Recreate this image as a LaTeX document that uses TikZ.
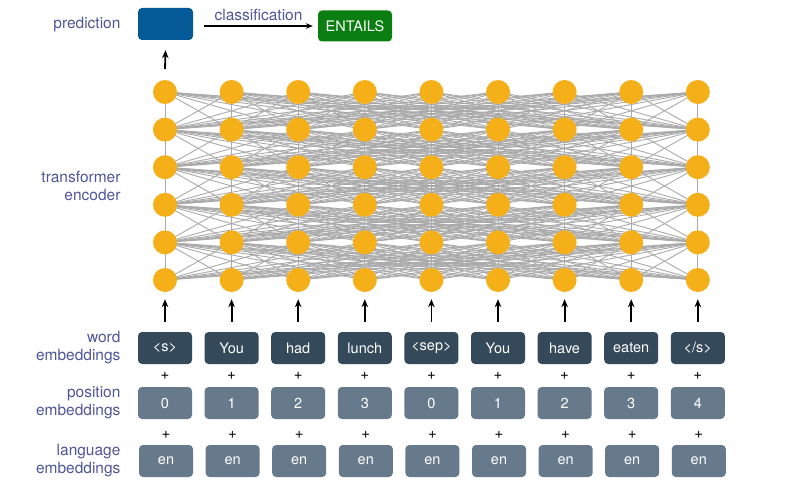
\documentclass[tikz,border=0pt]{standalone}
\usepackage{fontspec}
\setmainfont{TeX Gyre Heros}
\usetikzlibrary{arrows.meta}
\definecolor{lbl}{HTML}{4E5699}
\definecolor{orng}{HTML}{F5AF19}
\definecolor{predblue}{HTML}{035A97}
\definecolor{entgreen}{HTML}{0B7E12}
\definecolor{wordc}{HTML}{34495A}
\definecolor{posc}{HTML}{667A8B}
\definecolor{edgec}{HTML}{AAAAAA}
\tikzset{
  sidelabel/.style={text=lbl, font=\fontsize{15.5}{18}\selectfont, align=right, anchor=east},
  neuron/.style={circle, fill=orng, minimum size=24pt, inner sep=0pt},
  wbox/.style={rounded corners=4pt, fill=wordc, text=white, minimum width=54pt, minimum height=32pt, inner sep=0pt, font=\fontsize{14.5}{16}\selectfont},
  pbox/.style={wbox, fill=posc},
  plus/.style={font=\fontsize{15}{16}\selectfont, inner sep=0pt},
  conn/.style={draw=edgec, line width=0.9pt},
  uparrow/.style={-{Stealth[length=8pt,width=6.5pt]}, line width=1.8pt, black},
}
\begin{document}
\begin{tikzpicture}[x=1pt,y=-1pt]
\useasboundingbox (0,0) rectangle (810,484);
% side labels
\node[sidelabel] (lpred) at (124,25) {prediction};
\node[sidelabel] (lenc) at (124,186) {transformer\\encoder};
\node[sidelabel] (lword) at (124,348) {word\\embeddings};
\node[sidelabel] (lpos) at (124,403) {position\\embeddings};
\node[sidelabel] (llang) at (124,461) {language\\embeddings};
% neurons coordinates
\foreach \i in {1,...,9}{
  \foreach \r in {1,...,6}{
    \coordinate (c\i-\r) at ({165+(\i-1)*66.6},{92+(\r-1)*37.6});
  }
}
% edges
\foreach \r [evaluate=\r as \rn using int(\r+1)] in {1,...,5}{
  \foreach \i in {1,...,9}{
    \foreach \j in {1,...,9}{
      \draw[conn] (c\i-\r) -- (c\j-\rn);
    }
  }
}
\foreach \i in {1,...,9}{
  \foreach \r in {1,...,6}{
    \node[neuron] (n\i-\r) at (c\i-\r) {};
  }
}
% embeddings
\foreach \i/\w/\p in {1/{<s>}/0, 2/You/1, 3/had/2, 4/lunch/3, 5/{<sep>}/0, 6/You/1, 7/have/2, 8/eaten/3, 9/{</s>}/4}{
  \node[wbox] (w\i) at ({165+(\i-1)*66.6},348) {\w};
  \node[plus] (pa\i) at ({165+(\i-1)*66.6},376) {+};
  \node[pbox] (p\i) at ({165+(\i-1)*66.6},403) {\p};
  \node[plus] (pb\i) at ({166+(\i-1)*66.6},435) {+};
  \node[pbox] (l\i) at ({166+(\i-1)*66.6},461) {en};
  \coordinate (a\i) at ({165+(\i-1)*66.6},322);
  \draw[uparrow] (a\i) -- ([yshift=-7pt]n\i-6.south);
}
% prediction
\node[wbox, fill=predblue, minimum width=55pt, minimum height=32pt] (pred) at (165.5,24) {};
\coordinate (pa) at (165,69);
\draw[uparrow] (pa) -- ([yshift=-10pt]pred.south);
\node[wbox, fill=entgreen, minimum width=74pt, minimum height=31pt] (ent) at (355,26) {ENTAILS};
\draw[-{Stealth[length=7pt,width=5.5pt]}, line width=1.4pt] ([xshift=11pt]pred.east |- ent.center) -- node[above=1pt, text=lbl, font=\fontsize{15.5}{18}\selectfont] (cls) {classification} ([xshift=-5pt]ent.west);
\end{tikzpicture}
\end{document}
